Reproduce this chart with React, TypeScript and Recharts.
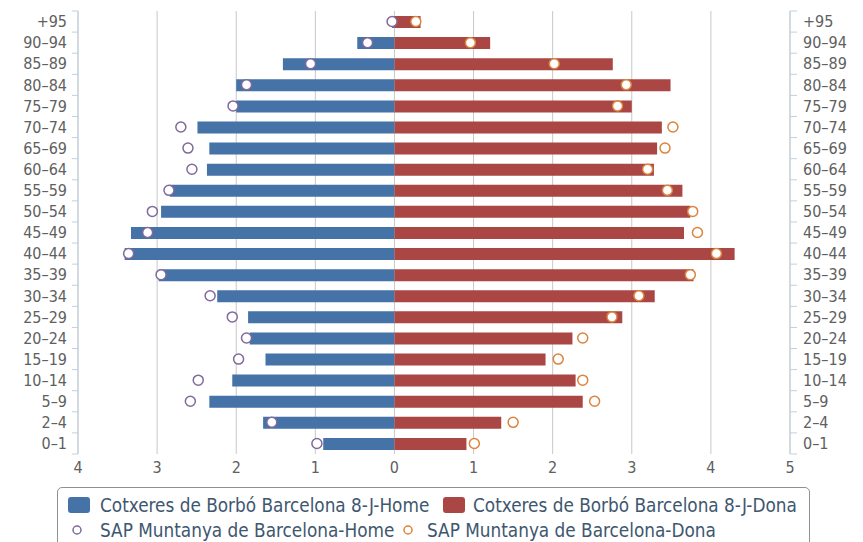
import React from 'react';
import { ComposedChart, Bar, Line, XAxis, YAxis, CartesianGrid } from 'recharts';

const AGES = ['+95', '90–94', '85–89', '80–84', '75–79', '70–74', '65–69', '60–64', '55–59', '50–54', '45–49',
  '40–44', '35–39', '30–34', '25–29', '20–24', '15–19', '10–14', '5–9', '2–4', '0–1'];

// Cotxeres de Borbó (bars), % of population
const HOME = [0.03, 0.47, 1.41, 2.0, 2.0, 2.49, 2.34, 2.37, 2.84, 2.95, 3.33, 3.41, 2.98, 2.24, 1.85, 1.83, 1.63, 2.05, 2.34, 1.66, 0.9];
const DONA = [0.33, 1.21, 2.76, 3.49, 3.0, 3.38, 3.32, 3.28, 3.64, 3.74, 3.66, 4.3, 3.78, 3.29, 2.88, 2.25, 1.91, 2.29, 2.38, 1.35, 0.91];

// SAP Muntanya (circles)
const HOME_SAP = [0.03, 0.34, 1.06, 1.87, 2.04, 2.7, 2.61, 2.56, 2.85, 3.06, 3.12, 3.36, 2.95, 2.33, 2.05, 1.87, 1.97, 2.48, 2.58, 1.55, 0.98];
const DONA_SAP = [0.27, 0.96, 2.02, 2.93, 2.82, 3.52, 3.42, 3.2, 3.45, 3.77, 3.83, 4.07, 3.74, 3.09, 2.75, 2.38, 2.07, 2.38, 2.53, 1.5, 1.01];

const X_TICKS = [-4, -3, -2, -1, 0, 1, 2, 3, 4, 5];

const data = AGES.map((age, i) => ({
  age,
  home: -HOME[i],
  dona: DONA[i],
  homeSap: -HOME_SAP[i],
  donaSap: DONA_SAP[i],
}));

const BLUE = '#4572a7';
const RED = '#aa4643';
const PURPLE = '#80699b';
const ORANGE = '#db843d';
const LABEL = '#606060';
const LEGEND_TEXT = '#3e576f';
const FONT = '"DejaVu Sans Condensed", "DejaVu Sans", sans-serif';

const BAND = 443 / AGES.length;

const AgeTick = (props: any) => {
  const { x, y, payload, index, side } = props;
  const left = side === 'left';
  const axisX = left ? x + 8 : x - 8;
  const t1 = left ? axisX - 6 : axisX + 7;
  return (
    <g>
      <line x1={axisX} x2={t1} y1={y - BAND / 2} y2={y - BAND / 2} stroke="#c0d0e0" />
      {index === AGES.length - 1 && (
        <line x1={axisX} x2={t1} y1={y + BAND / 2} y2={y + BAND / 2} stroke="#c0d0e0" />
      )}
      <text
        x={left ? axisX - 11 : axisX + 13}
        y={y}
        dy="0.36em"
        textAnchor={left ? 'end' : 'start'}
        fill={LABEL}
        fontSize={16}
        fontFamily={FONT}
      >
        {payload.value}
      </text>
    </g>
  );
};

const LegendText = ({ x, y, children }: any) => (
  <text x={x} y={y} dy="0.36em" fill={LEGEND_TEXT} fontSize={18.8} fontFamily={FONT}>
    {children}
  </text>
);

const LegendBox = () => (
  <div
    style={{
      position: 'absolute',
      left: 57,
      top: 487,
      width: 753,
      height: 70,
      border: '1px solid #909090',
      borderRadius: 5,
      boxSizing: 'border-box',
    }}
  >
    <svg width={753} height={70} style={{ position: 'absolute', left: -1, top: -1 }}>
      <rect x={11} y={10} width={22} height={16} rx={3} fill={BLUE} />
      <LegendText x={43} y={18}>Cotxeres de Borbó Barcelona 8-J-Home</LegendText>
      <rect x={386} y={10} width={22} height={16} rx={3} fill={RED} />
      <LegendText x={416} y={18}>Cotxeres de Borbó Barcelona 8-J-Dona</LegendText>
      <circle cx={20} cy={43} r={4} fill="#fff" stroke={PURPLE} strokeWidth={1.5} />
      <LegendText x={43} y={43}>SAP Muntanya de Barcelona-Home</LegendText>
      <circle cx={351} cy={43} r={4} fill="#fff" stroke={ORANGE} strokeWidth={1.5} />
      <LegendText x={370} y={43}>SAP Muntanya de Barcelona-Dona</LegendText>
    </svg>
  </div>
);

export default function App() {
  return (
    <div style={{ position: 'absolute', left: 0, top: 0, width: 863, height: 542, overflow: 'hidden', background: '#fff' }}>
      <ComposedChart
        width={863}
        height={542}
        data={data}
        layout="vertical"
        stackOffset="sign"
        margin={{ top: 11, right: 3, bottom: 58, left: 8 }}
      >
        <CartesianGrid yAxisId="left" horizontal={false} stroke="#c8c8c8" />
        <XAxis
          type="number"
          domain={[-4, 5]}
          ticks={X_TICKS}
          interval={0}
          tickFormatter={(v: number) => String(Math.abs(v))}
          axisLine={false}
          tickLine={false}
          height={30}
          tick={{ fill: LABEL, fontSize: 16, fontFamily: FONT }}
        />
        <YAxis
          yAxisId="left"
          type="category"
          dataKey="age"
          width={70}
          interval={0}
          axisLine={{ stroke: '#c0d0e0' }}
          tickLine={false}
          tick={<AgeTick side="left" />}
        />
        <YAxis
          yAxisId="right"
          orientation="right"
          type="category"
          dataKey="age"
          width={70}
          interval={0}
          axisLine={{ stroke: '#c0d0e0' }}
          tickLine={false}
          tick={<AgeTick side="right" />}
        />
        <Bar yAxisId="left" dataKey="home" stackId="a" fill={BLUE} barSize={12} isAnimationActive={false} />
        <Bar yAxisId="left" dataKey="dona" stackId="a" fill={RED} barSize={12} isAnimationActive={false} />
        <Line
          yAxisId="left"
          dataKey="homeSap"
          stroke="none"
          dot={{ r: 5, fill: '#fff', stroke: PURPLE, strokeWidth: 1.5 }}
          activeDot={false}
          isAnimationActive={false}
        />
        <Line
          yAxisId="left"
          dataKey="donaSap"
          stroke="none"
          dot={{ r: 5, fill: '#fff', stroke: ORANGE, strokeWidth: 1.5 }}
          activeDot={false}
          isAnimationActive={false}
        />
      </ComposedChart>
      <LegendBox />
    </div>
  );
}
